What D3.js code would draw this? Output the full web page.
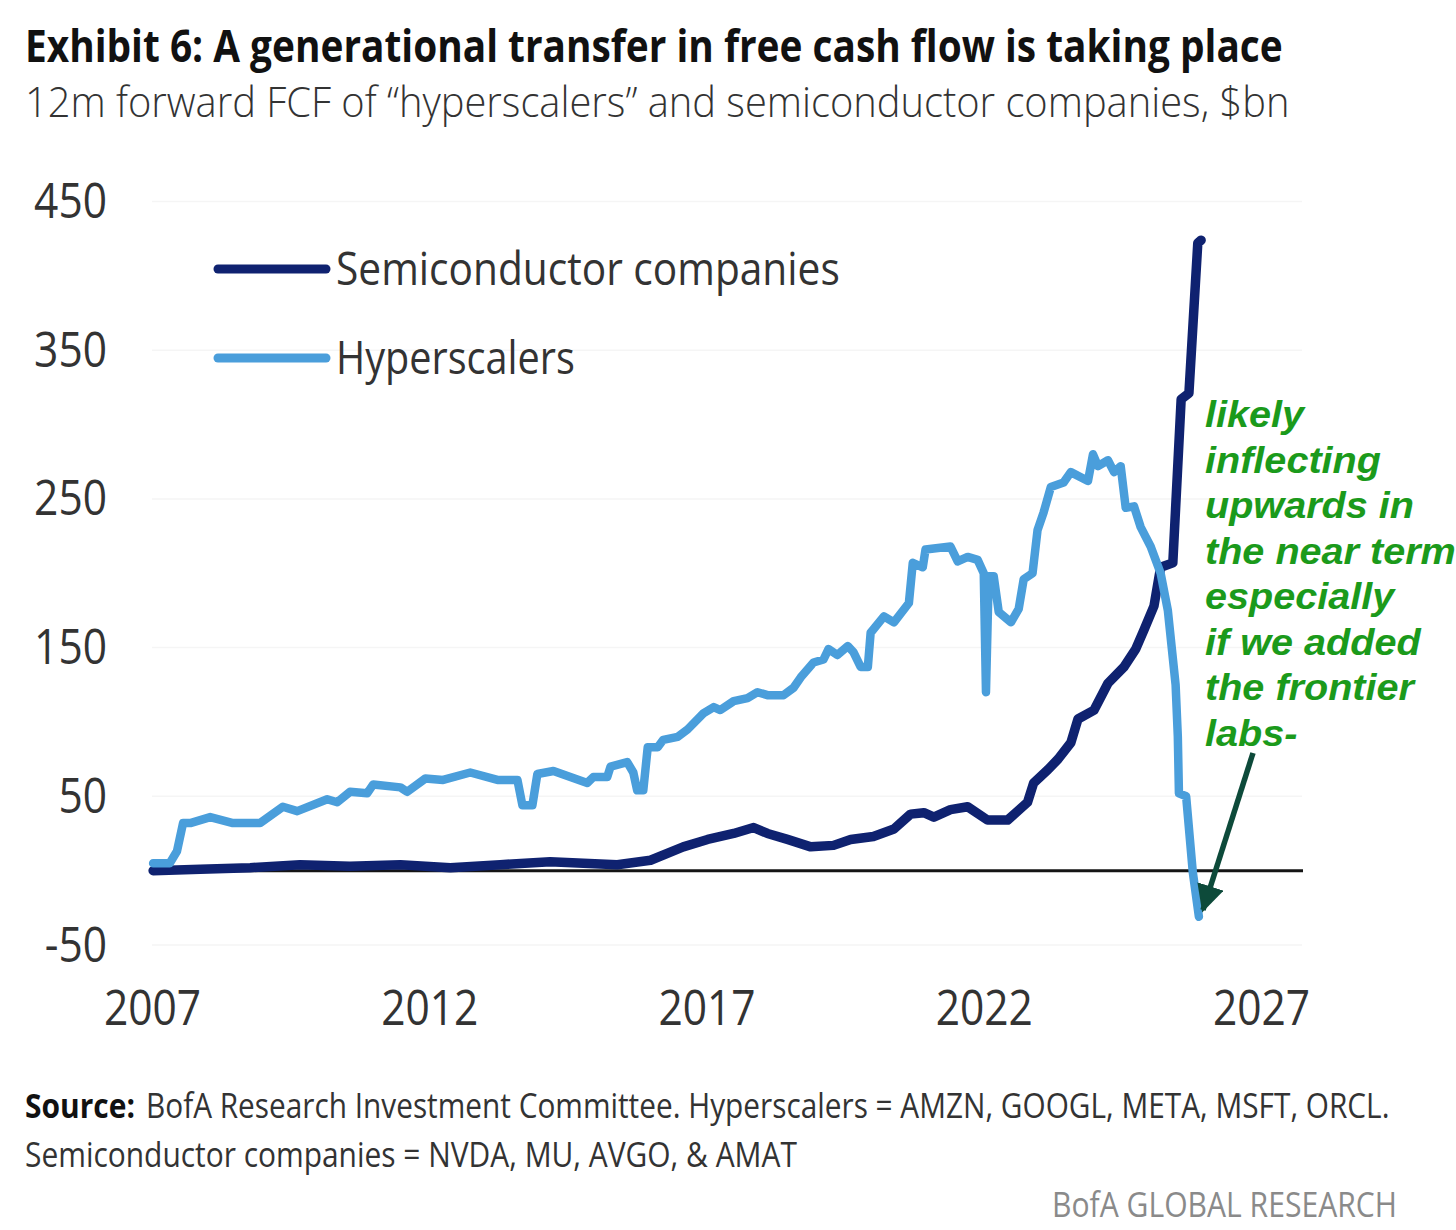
<!DOCTYPE html>
<html>
<head>
<meta charset="utf-8">
<script src="https://cdnjs.cloudflare.com/ajax/libs/d3/7.8.5/d3.min.js"></script>
<style>
  body { margin: 0; background: #fff; }
</style>
</head>
<body>
<script>
// values (decimal years, $bn)
var hypYears = [2007.02, 2007.32, 2007.45, 2007.56, 2007.69, 2008.05, 2008.46, 2008.95, 2009.36, 2009.62,
  2010.16, 2010.34, 2010.57, 2010.88, 2010.99, 2011.48, 2011.60, 2011.93, 2012.25, 2012.74,
  2013.23, 2013.59, 2013.68, 2013.86, 2013.95, 2014.24, 2014.85, 2014.96, 2015.21, 2015.27,
  2015.57, 2015.68, 2015.75, 2015.86, 2015.94, 2016.12, 2016.22, 2016.48, 2016.66, 2016.95,
  2017.13, 2017.25, 2017.49, 2017.74, 2017.92, 2018.10, 2018.39, 2018.57, 2018.70, 2018.93,
  2019.11, 2019.20, 2019.36, 2019.55, 2019.65, 2019.78, 2019.91, 2019.96, 2020.20, 2020.38,
  2020.65, 2020.72, 2020.90, 2020.95, 2021.40, 2021.53, 2021.71, 2021.89, 2022.00, 2022.04,
  2022.09, 2022.18, 2022.27, 2022.49, 2022.63, 2022.72, 2022.88, 2022.97, 2023.08, 2023.21,
  2023.44, 2023.57, 2023.88, 2023.97, 2024.06, 2024.24, 2024.35, 2024.47, 2024.56, 2024.71,
  2024.83, 2025.01, 2025.19, 2025.32, 2025.39, 2025.46, 2025.50, 2025.52, 2025.65, 2025.77,
  2025.88];
var hypValues = [5, 5, 13, 32, 32, 36, 32, 32, 43, 40,
  48, 46, 53, 52, 58, 56, 53, 62, 61, 66,
  61, 61, 44, 44, 65, 67, 59, 63, 63, 70,
  73, 66, 54, 54, 83, 83, 88, 90, 95, 106,
  110, 108, 114, 116, 120, 118, 118, 123, 130, 140,
  142, 149, 145, 151, 147, 137, 137, 160, 171, 167,
  180, 207, 204, 216, 218, 208, 211, 209, 200, 120,
  198, 198, 174, 167, 176, 196, 200, 229, 241, 258,
  261, 268, 262, 280, 272, 276, 268, 272, 244, 245,
  231, 218, 200, 175, 150, 125, 90, 52, 50, -1,
  -31];

var semiYears = [2007.02, 2007.87, 2008.77, 2009.67, 2010.57, 2011.48, 2012.38, 2013.28, 2014.18, 2014.78,
  2015.39, 2015.99, 2016.58, 2017.02, 2017.49, 2017.85, 2018.10, 2018.46, 2018.88, 2019.29,
  2019.60, 2020.01, 2020.38, 2020.68, 2020.92, 2021.10, 2021.40, 2021.71, 2022.07, 2022.43,
  2022.79, 2022.90, 2023.16, 2023.34, 2023.57, 2023.70, 2023.99, 2024.24, 2024.53, 2024.74,
  2024.89, 2025.07, 2025.19, 2025.41, 2025.56, 2025.70, 2025.86, 2025.92];
var semiValues = [0, 1, 2, 4, 3, 4, 2, 4, 6, 5,
  4, 7, 16, 21, 25, 29, 25, 21, 16, 17,
  21, 23, 28, 38, 39, 36, 41, 43, 34, 34,
  46, 59, 68, 75, 86, 102, 108, 126, 137, 149,
  162, 178, 204, 207, 317, 321, 422, 424];

var yTicks = [-50, 50, 150, 250, 350, 450];
var xTicks = [2007, 2012, 2017, 2022, 2027];
var seriesNames = ["Semiconductor companies", "Hyperscalers"];
var seriesColors = ["#0f2270", "#4a9edb"];
var noteLines = ["likely", "inflecting", "upwards in", "the near term", "especially",
  "if we added", "the frontier", "labs-"];

var titleText = "Exhibit 6: A generational transfer in free cash flow is taking place";
var subtitleText = "12m forward FCF of \u201chyperscalers\u201d and semiconductor companies, $bn";
var sourceLabel = "Source:";
var sourceLine1 = "BofA Research Investment Committee. Hyperscalers = AMZN, GOOGL, META, MSFT, ORCL.";
var sourceLine2 = "Semiconductor companies = NVDA, MU, AVGO, & AMAT";
var brandText = "BofA GLOBAL RESEARCH";

var W = 1456, H = 1230;
var font = "'Open Sans', 'DejaVu Sans', sans-serif";

var svg = d3.select("body")
  .append("svg")
  .attr("width", W)
  .attr("height", H)
  .style("font-family", font);

// squeeze text horizontally to mimic the condensed house font
function squeeze(sel, k) {
  sel.each(function() {
    var w = this.getComputedTextLength();
    d3.select(this).attr("textLength", w * k).attr("lengthAdjust", "spacingAndGlyphs");
  });
}

// place a text at (px, py) and scale it in x so it spans exactly w pixels
function fitText(sel, px, py, w) {
  sel.each(function() {
    var natural = this.getComputedTextLength();
    d3.select(this)
      .attr("x", 0).attr("y", 0)
      .attr("transform", "translate(" + px + "," + py + ") scale(" + (w / natural) + ",1)");
  });
}

// title + subtitle
svg.append("text")
  .attr("font-size", 44).attr("font-weight", 700).attr("fill", "#111")
  .text(titleText)
  .call(fitText, 25, 62, 1258);

svg.append("text")
  .attr("font-size", 42).attr("font-weight", 300).attr("fill", "#333")
  .text(subtitleText)
  .call(fitText, 25, 117, 1265);

// scales
var x = d3.scaleLinear().domain([2007, 2027]).range([152, 1261]);
var y = d3.scaleLinear().domain([-50, 450]).range([945, 201.5]);

// faint gridlines
svg.append("g")
  .selectAll("line")
  .data(yTicks)
  .enter()
  .append("line")
  .attr("x1", x(2007)).attr("x2", 1302)
  .attr("y1", function(d) { return y(d); })
  .attr("y2", function(d) { return y(d); })
  .attr("stroke", "#f5f5f5")
  .attr("stroke-width", 1.5);

// y axis labels (plain hyphen for the negative tick, as in the exhibit)
var yAxis = svg.append("g")
  .attr("transform", "translate(" + x(2007) + ",0)")
  .call(d3.axisLeft(y).tickValues(yTicks).tickFormat(function(d) { return String(d); })
    .tickSize(0).tickPadding(45));
yAxis.select(".domain").remove();
yAxis.selectAll("text")
  .attr("font-size", 50).attr("font-family", font).attr("fill", "#333")
  .call(squeeze, 0.85);

// x axis labels
var xAxis = svg.append("g")
  .attr("transform", "translate(0," + y(-50) + ")")
  .call(d3.axisBottom(x).tickValues(xTicks).tickFormat(d3.format("d")).tickSize(0).tickPadding(44));
xAxis.select(".domain").remove();
xAxis.selectAll("text")
  .attr("font-size", 50).attr("font-family", font).attr("fill", "#333")
  .call(squeeze, 0.85);

// zero line
svg.append("line")
  .attr("x1", x(2007)).attr("x2", 1303)
  .attr("y1", y(0)).attr("y2", y(0))
  .attr("stroke", "#151515")
  .attr("stroke-width", 3);

// series lines
var line = d3.line()
  .x(function(d) { return x(d[0]); })
  .y(function(d) { return y(d[1]); });

var semiData = d3.zip(semiYears, semiValues);
var hypData = d3.zip(hypYears, hypValues);

svg.append("path")
  .datum(semiData)
  .attr("d", line)
  .attr("fill", "none")
  .attr("stroke", seriesColors[0])
  .attr("stroke-width", 9.5)
  .attr("stroke-linejoin", "round")
  .attr("stroke-linecap", "round");

svg.append("path")
  .datum(hypData)
  .attr("d", line)
  .attr("fill", "none")
  .attr("stroke", seriesColors[1])
  .attr("stroke-width", 8.5)
  .attr("stroke-linejoin", "round")
  .attr("stroke-linecap", "round");

// legend
var legendWidths = [504, 239];
var legend = svg.selectAll(".legendItem")
  .data(seriesNames)
  .enter()
  .append("g")
  .attr("class", "legendItem")
  .attr("transform", function(d, i) { return "translate(0," + (269 + i * 89) + ")"; });

legend.append("line")
  .attr("x1", 218).attr("x2", 326)
  .attr("stroke", function(d, i) { return seriesColors[i]; })
  .attr("stroke-width", 9)
  .attr("stroke-linecap", "round");

legend.append("text")
  .attr("font-size", 45).attr("fill", "#333")
  .text(function(d) { return d; })
  .each(function(d, i) { d3.select(this).call(fitText, 336, 16, legendWidths[i]); });

// green annotation
svg.append("g")
  .selectAll("text")
  .data(noteLines)
  .enter()
  .append("text")
  .attr("x", 1205)
  .attr("y", function(d, i) { return 427 + i * 45.5; })
  .attr("font-family", "'Liberation Sans', Arial, sans-serif")
  .attr("font-size", 37)
  .attr("font-weight", 700)
  .attr("font-style", "italic")
  .attr("fill", "#1b9a1b")
  .text(function(d) { return d; })
  .call(squeeze, 1.07);

// arrow pointing at the hyperscaler trough
svg.append("defs")
  .append("marker")
  .attr("id", "head")
  .attr("viewBox", "0 0 10 10")
  .attr("refX", 9).attr("refY", 5)
  .attr("markerWidth", 5).attr("markerHeight", 5)
  .attr("markerUnits", "strokeWidth")
  .attr("orient", "auto")
  .append("path")
  .attr("d", "M0,0 L10,5 L0,10 Z")
  .attr("fill", "#0d4a3a");

svg.append("line")
  .attr("x1", 1253).attr("y1", 753)
  .attr("x2", 1203).attr("y2", 910)
  .attr("stroke", "#0d4a3a")
  .attr("stroke-width", 5.5)
  .attr("marker-end", "url(#head)");

// source block
svg.append("text")
  .attr("font-size", 34).attr("font-weight", 700).attr("fill", "#111")
  .text(sourceLabel)
  .call(fitText, 25, 1118, 110);

svg.append("text")
  .attr("font-size", 34).attr("fill", "#333")
  .text(sourceLine1)
  .call(fitText, 146, 1118, 1244);

svg.append("text")
  .attr("font-size", 34).attr("fill", "#333")
  .text(sourceLine2)
  .call(fitText, 25, 1167, 772);

svg.append("text")
  .attr("font-size", 34).attr("fill", "#8a8a8a")
  .text(brandText)
  .call(fitText, 1052, 1217, 345);
</script>
</body>
</html>
